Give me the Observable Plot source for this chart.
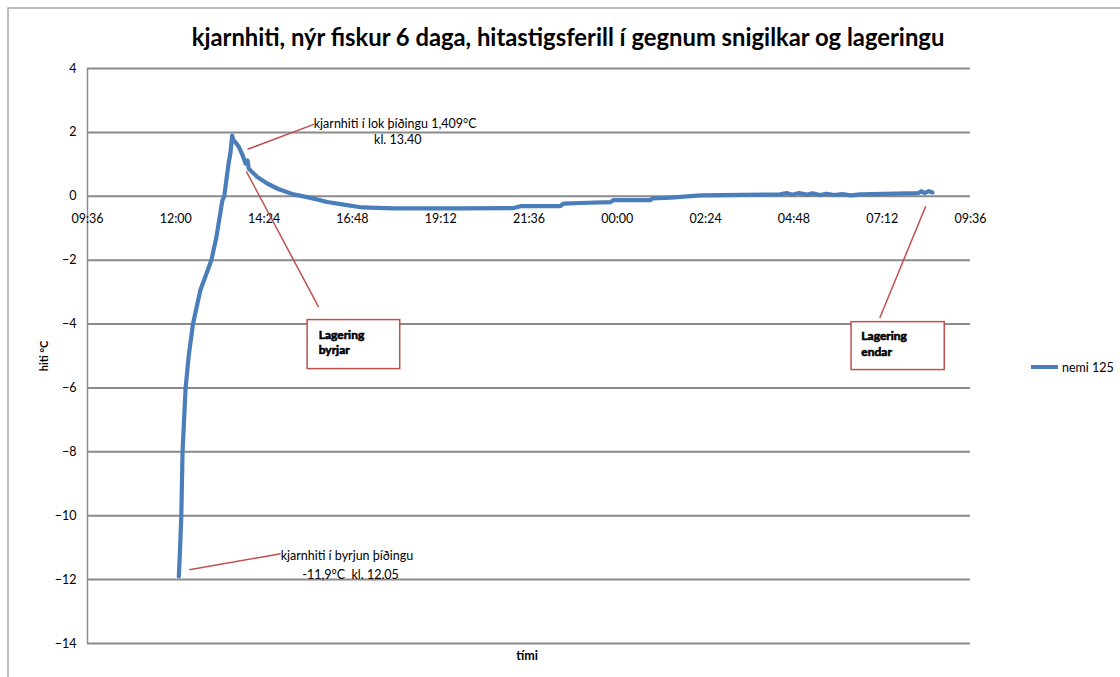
<!DOCTYPE html>
<html>
<head>
<meta charset="utf-8">
<script src="https://cdn.jsdelivr.net/npm/d3@7"></script>
<script src="https://cdn.jsdelivr.net/npm/@observablehq/plot@0.6"></script>
<style>
  html, body { margin: 0; padding: 0; background: #fff; }
  #chart { width: 1120px; height: 677px; }
</style>
</head>
<body>
<div id="chart"></div>
<script>
// ---- data (times before 09:36 belong to the next day) ----
const times = ["12:05","12:07","12:09","12:11","12:16","12:21","12:28","12:40","12:58","13:06","13:16","13:19","13:26","13:29","13:32","13:34","13:37","13:43","13:48","13:54","13:57","13:59","14:13","14:29","14:48","15:12","15:40","16:07","16:34","17:04","17:55","19:44","21:11","21:22","22:27","22:32","23:00","23:49","23:54","00:54","00:57","01:27","02:16","04:26","04:36","04:46","04:56","05:09","05:18","05:31","05:41","05:54","06:07","06:20","06:37","08:11","08:16","08:21","08:28","08:34"];
const temps = [-11.9,-11.0,-10,-8,-6,-5,-4,-2.94,-2,-1.3,-0.125,0,1.02,1.34,1.9,1.75,1.7,1.54,1.33,1.02,1.12,0.86,0.6,0.4,0.22,0.06,-0.05,-0.18,-0.26,-0.35,-0.38,-0.38,-0.37,-0.31,-0.31,-0.23,-0.21,-0.18,-0.12,-0.12,-0.07,-0.04,0.03,0.06,0.1,0.05,0.1,0.05,0.09,0.04,0.08,0.04,0.07,0.03,0.06,0.1,0.16,0.1,0.16,0.12];
const seriesName = "nemi 125";
const xTickLabels = ["09:36","12:00","14:24","16:48","19:12","21:36","00:00","02:24","04:48","07:12","09:36"];
const xTickDays   = [0,0,0,0,0,0,1,1,1,1,1];
const yTicks = [4,2,0,-2,-4,-6,-8,-10,-12,-14];
const title = "kjarnhiti, nýr fiskur 6 daga, hitastigsferill í gegnum snigilkar og lageringu";
const xTitle = "tími";
const yTitle = "hiti °C";

// annotations
const leaderLines = [
  {t1:"13:57", v1:1.47,  t2:"15:45", v2:2.25},
  {t1:"13:55", v1:0.78,  t2:"15:53", v2:-3.47},
  {t1:"08:23", v1:-0.31, t2:"07:08", v2:-3.81},
  {t1:"12:22", v1:-11.69,t2:"14:51", v2:-11.19}
];
const noteBoxes = [
  {t1:"15:35", t2:"18:06", v1:-3.875, v2:-5.41},
  {t1:"06:22", t2:"08:54", v1:-3.94, v2:-5.44}
];
const startNotes = [
  {t:"15:45", v:2.25,   text:"kjarnhiti í lok þíðingu 1,409°C"},
  {t:"14:51", v:-11.25, text:"kjarnhiti í byrjun þíðingu"}
];
const middleNotes = [
  {t:"18:02", v:1.75,   text:"kl. 13.40"},
  {t:"16:45", v:-11.84, text:"-11,9°C  kl. 12.05"}
];
const boxNotes = [
  {t:"15:53", v:-4.34,  text:"Lagering"},
  {t:"15:53", v:-4.81,  text:"byrjar"},
  {t:"06:38", v:-4.375, text:"Lagering"},
  {t:"06:38", v:-4.875, text:"endar"}
];

// ---- helpers ----
function toDate(hhmm, dayOverride) {
  const [h, m] = hhmm.split(":").map(Number);
  const day = dayOverride !== undefined ? dayOverride : ((h + m/60) < 9.6 ? 1 : 0);
  return new Date(Date.UTC(2010, 0, 1 + day, h, m));
}
const data = times.map((t, i) => ({time: toDate(t), temp: temps[i]}));
const xTicks = xTickLabels.map((l, i) => ({date: toDate(l, xTickDays[i]), label: l}));
const xDomain = [xTicks[0].date, xTicks[xTicks.length - 1].date];

const FONT = "Lato, 'Open Sans', sans-serif";
const RED = "#c0504d";
const BLUE = "#4a7ebb";
const GRID = "#8a8a8a";

const plot = Plot.plot({
  width: 1120,
  height: 677,
  marginLeft: 87,
  marginRight: 150,
  marginTop: 68,
  marginBottom: 34,
  style: {fontFamily: FONT, fontSize: "12.5px", color: "#000", background: "#fff"},
  x: {type: "utc", domain: xDomain, axis: null},
  y: {domain: [-14, 4], ticks: yTicks, tickSize: 0, tickPadding: 11, label: null},
  marks: [
    Plot.gridY(yTicks, {stroke: GRID, strokeOpacity: 1, strokeWidth: 2}),
    Plot.ruleX([xDomain[0]], {stroke: GRID, strokeWidth: 1.5}),
    Plot.axisY({ticks: yTicks, tickSize: 0, tickPadding: 11, label: null, fontSize: 12.5}),
    Plot.text(xTicks, {x: "date", y: () => 0, text: "label", dy: 23, fontSize: 12.5, fill: "#000"}),
    Plot.rect(noteBoxes, {x1: d => toDate(d.t1), x2: d => toDate(d.t2), y1: "v1", y2: "v2", fill: "white", stroke: RED, strokeWidth: 1.5}),
    Plot.link(leaderLines, {x1: d => toDate(d.t1), y1: "v1", x2: d => toDate(d.t2), y2: "v2", stroke: RED, strokeWidth: 1.5}),
    Plot.line(data, {x: "time", y: "temp", stroke: BLUE, strokeWidth: 4.2, strokeLinejoin: "round", strokeLinecap: "round"}),
    Plot.text(startNotes, {x: d => toDate(d.t), y: "v", text: "text", textAnchor: "start", fontSize: 12.5, fill: "#000"}),
    Plot.text(middleNotes, {x: d => toDate(d.t), y: "v", text: "text", textAnchor: "middle", fontSize: 12.5, fill: "#000"}),
    Plot.text(boxNotes, {x: d => toDate(d.t), y: "v", text: "text", textAnchor: "start", fontSize: 12, fontWeight: "bold", fill: "#000", stroke: "#000", strokeWidth: 0.6})
  ]
});

const svg = d3.select(plot);
// chart area border
svg.append("path").attr("d", "M8,677 L8,8 L1120,8").attr("fill", "none").attr("stroke", "#a6a6a6").attr("stroke-width", 1.5);
// title
svg.append("text").attr("x", 568).attr("y", 46).attr("text-anchor", "middle")
  .attr("font-family", FONT).attr("font-weight", "bold").attr("font-size", 23.8).attr("fill", "#000").text(title);
// x title
svg.append("text").attr("x", 527).attr("y", 660).attr("text-anchor", "middle")
  .attr("font-family", FONT).attr("font-weight", "bold").attr("font-size", 12.5).attr("fill", "#000").text(xTitle);
// y title
svg.append("text").attr("transform", "translate(48,356) rotate(-90)").attr("text-anchor", "middle")
  .attr("font-family", FONT).attr("font-weight", "bold").attr("font-size", 11).attr("fill", "#000").text(yTitle);
// legend
svg.append("line").attr("x1", 1031).attr("x2", 1058).attr("y1", 367).attr("y2", 367)
  .attr("stroke", BLUE).attr("stroke-width", 4);
svg.append("text").attr("x", 1062).attr("y", 371.5).attr("text-anchor", "start")
  .attr("font-family", FONT).attr("font-size", 12.5).attr("fill", "#000").text(seriesName);

document.getElementById("chart").appendChild(plot);
</script>
</body>
</html>
